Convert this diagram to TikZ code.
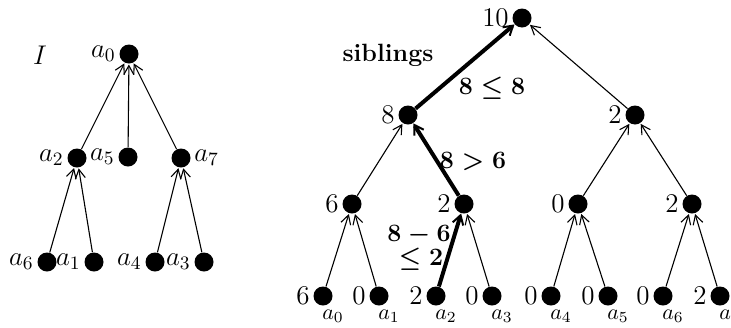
\RequirePackage{fix-cm}
\documentclass[tikz,border=0pt]{standalone}
\usetikzlibrary{arrows.meta}
\begin{document}
\begin{tikzpicture}[x=0.5pt,y=-0.5pt,
  dot/.style={circle,fill=black,inner sep=0pt,minimum size=9.5pt},
  txt/.style={font=\fontsize{13.5}{15}\selectfont,inner sep=1pt},
  sub/.style={font=\fontsize{11}{13}\selectfont,inner sep=0pt},
  bl/.style={font=\fontsize{12.5}{14}\selectfont\bfseries\boldmath,inner sep=0pt},
  edge/.style={line width=0.55pt,-{Straight Barb[length=4.5pt,width=5pt]},shorten >=0.3pt},
  thick edge/.style={line width=2pt,-{Straight Barb[length=4.5pt,width=5.5pt,line width=1pt]}},
  lab/.style={label={[txt,label distance=0.5pt]left:#1}},
  labr/.style={label={[txt,label distance=0.5pt]right:#1}}]
\useasboundingbox (0,0) rectangle (731,327);
% left tree
\node[txt] (I) at (40,55) {$I$};
\node[dot,lab={$a_0$}] (a0) at (129,54) {};
\node[dot,lab={$a_2$}] (a2) at (77,158) {};
\node[dot,lab={$a_5$}] (a5) at (128,157) {};
\node[dot,labr={$a_7$}] (a7) at (181,158) {};
\node[dot,lab={$a_6$}] (a6) at (47,262) {};
\node[dot,lab={$a_1$}] (a1) at (94,262) {};
\node[dot,lab={$a_4$}] (a4) at (155,262) {};
\node[dot,lab={$a_3$}] (a3) at (204,262) {};
\draw[edge] (a2) -- (a0);
\draw[edge] (a5) -- (a0);
\draw[edge] (a7) -- (a0);
\draw[edge] (a6) -- (a2);
\draw[edge] (a1) -- (a2);
\draw[edge] (a4) -- (a7);
\draw[edge] (a3) -- (a7);
% right tree
\node[bl] (sib) at (388,55) {siblings};
\node[dot,lab={$10$}] (r) at (522,18) {};
\node[dot,lab={$8$}] (m1) at (408,115) {};
\node[dot,lab={$2$}] (m2) at (635,115) {};
\node[dot,lab={$6$}] (n1) at (352,204) {};
\node[dot,lab={$2$}] (n2) at (464,204) {};
\node[dot,lab={$0$}] (n3) at (578,204) {};
\node[dot,lab={$2$}] (n4) at (692,204) {};
\node[dot,lab={$6$}] (l0) at (323,296) {};
\node[dot,lab={$0$}] (l1) at (379,296) {};
\node[dot,lab={$2$}] (l2) at (436,296) {};
\node[dot,lab={$0$}] (l3) at (492,296) {};
\node[dot,lab={$0$}] (l4) at (551,296) {};
\node[dot,lab={$0$}] (l5) at (608,296) {};
\node[dot,lab={$0$}] (l6) at (663,296) {};
\node[dot,lab={$2$}] (l7) at (720,296) {};
\foreach \i/\x in {0/333,1/389,2/446,3/502,4/561,5/618,6/673,7/730}
  \node[sub] (s\i) at (\x,316) {$a_\i$};
\draw[thick edge] (m1) -- (r);
\draw[edge] (m2) -- (r);
\draw[edge] (n1) -- (m1);
\draw[thick edge] (n2) -- (m1);
\draw[edge] (n3) -- (m2);
\draw[edge] (n4) -- (m2);
\draw[edge] (l0) -- (n1);
\draw[edge] (l1) -- (n1);
\draw[thick edge] (l2) -- (n2);
\draw[edge] (l3) -- (n2);
\draw[edge] (l4) -- (n3);
\draw[edge] (l5) -- (n3);
\draw[edge] (l6) -- (n4);
\draw[edge] (l7) -- (n4);
\node[bl] (c1) at (492,88) {$8\le 8$};
\node[bl] (c2) at (473,162) {$8>6$};
\node[bl] (c3) at (419,235) {$8-6$};
\node[bl] (c4) at (421,259) {$\le 2$};
\end{tikzpicture}
\end{document}
